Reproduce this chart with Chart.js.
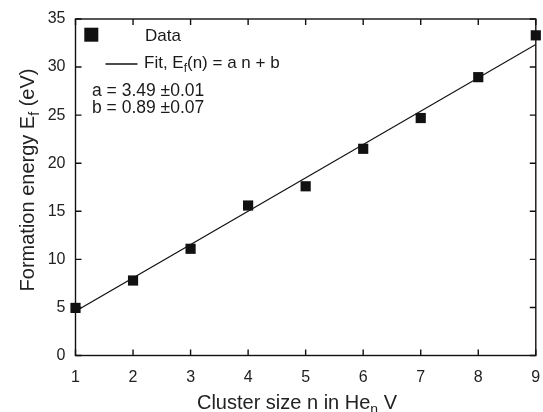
<!DOCTYPE html>
<html>
<head>
<meta charset="utf-8">
<script src="https://cdn.jsdelivr.net/npm/chart.js@4/dist/chart.umd.min.js"></script>
<style>
html,body{margin:0;padding:0;background:#fff;}
#wrap{width:543px;height:412px;}
</style>
</head>
<body>
<div id="wrap"><canvas id="c" width="543" height="412"></canvas></div>
<script>
// ---- data ----
const clusterSize = [1, 2, 3, 4, 5, 6, 7, 8, 9];
const formationEnergy = [4.95, 7.8, 11.1, 15.6, 17.6, 21.5, 24.7, 28.95, 33.3];
const fitX = [1, 9];
const fitY = [4.6, 32.35];
const xTicks = [1, 2, 3, 4, 5, 6, 7, 8, 9];
const yTicks = [0, 5, 10, 15, 20, 25, 30, 35];
const legendData = "Data";
const legendFit = ["Fit, E", "f", "(n) = a n + b"];
const fitParams = ["a = 3.49 \u00b10.01", "b = 0.89 \u00b10.07"];
const yTitle = ["Formation energy E", "f", " (eV)"];
const xTitle = ["Cluster size n in He", "n", " V"];

const FONT = "'Liberation Sans', Arial, sans-serif";
const INK = "#111";

function drawRich(ctx, parts, x, y, size) {
  let cx = x;
  ctx.font = size + "px " + FONT;
  ctx.fillText(parts[0], cx, y); cx += ctx.measureText(parts[0]).width;
  ctx.font = Math.round(size * 0.68) + "px " + FONT;
  ctx.fillText(parts[1], cx, y + size * 0.25); cx += ctx.measureText(parts[1]).width;
  ctx.font = size + "px " + FONT;
  ctx.fillText(parts[2], cx, y); cx += ctx.measureText(parts[2]).width;
  return cx - x;
}
function richWidth(ctx, parts, size) {
  ctx.font = size + "px " + FONT;
  let w = ctx.measureText(parts[0]).width + ctx.measureText(parts[2]).width;
  ctx.font = Math.round(size * 0.68) + "px " + FONT;
  return w + ctx.measureText(parts[1]).width;
}

const decor = {
  id: 'decor',
  afterDraw(chart) {
    const ctx = chart.ctx;
    const a = chart.chartArea;
    const xs = chart.scales.x, ys = chart.scales.y;
    ctx.save();
    ctx.strokeStyle = INK;
    ctx.lineWidth = 1.4;
    ctx.strokeRect(a.left, a.top, a.right - a.left, a.bottom - a.top);
    const tl = 6;
    ctx.beginPath();
    xTicks.forEach(v => {
      const px = xs.getPixelForValue(v);
      ctx.moveTo(px, a.bottom); ctx.lineTo(px, a.bottom - tl);
      ctx.moveTo(px, a.top); ctx.lineTo(px, a.top + tl);
    });
    yTicks.forEach(v => {
      const py = ys.getPixelForValue(v);
      ctx.moveTo(a.left, py); ctx.lineTo(a.left + tl, py);
      ctx.moveTo(a.right, py); ctx.lineTo(a.right - tl, py);
    });
    ctx.stroke();

    // legend
    ctx.fillStyle = INK;
    ctx.fillRect(84.3, 27.7, 14, 14);
    ctx.beginPath();
    ctx.lineWidth = 1.4;
    ctx.moveTo(105.5, 64); ctx.lineTo(137.5, 64); ctx.stroke();
    ctx.textBaseline = 'alphabetic';
    ctx.textAlign = 'left';
    ctx.fillStyle = "#1a1a1a";
    ctx.font = "17px " + FONT;
    ctx.fillText(legendData, 145, 40.7);
    drawRich(ctx, legendFit, 144, 67.5, 17);
    ctx.font = "17.5px " + FONT;
    ctx.fillText(fitParams[0], 92, 95.7);
    ctx.fillText(fitParams[1], 92, 113.3);

    // axis titles
    ctx.fillStyle = "#222";
    const ts = 20;
    const wx = richWidth(ctx, xTitle, ts);
    drawRich(ctx, xTitle, 297 - wx / 2, 409, ts);
    ctx.save();
    ctx.translate(33.5, 180);
    ctx.rotate(-Math.PI / 2);
    const wy = richWidth(ctx, yTitle, ts);
    drawRich(ctx, yTitle, -wy / 2, 0, ts);
    ctx.restore();
    ctx.restore();
  }
};

new Chart(document.getElementById('c'), {
  type: 'scatter',
  data: {
    datasets: [
      {
        label: 'Data',
        data: clusterSize.map((n, i) => ({x: n, y: formationEnergy[i]})),
        pointStyle: 'rect',
        pointRadius: 7.2,
        pointHoverRadius: 7.2,
        backgroundColor: INK,
        borderColor: INK,
        borderWidth: 0,
        showLine: false,
        clip: false,
        order: 1
      },
      {
        label: 'Fit',
        data: fitX.map((n, i) => ({x: n, y: fitY[i]})),
        showLine: true,
        pointRadius: 0,
        borderColor: INK,
        borderWidth: 1.3,
        fill: false,
        order: 2
      }
    ]
  },
  options: {
    responsive: false,
    animation: false,
    devicePixelRatio: 1,
    layout: { padding: { top: 19, right: 6, left: 0, bottom: 0 } },
    plugins: { legend: { display: false }, tooltip: { enabled: false } },
    scales: {
      x: {
        type: 'linear', min: 1, max: 9,
        afterBuildTicks: s => { s.ticks = xTicks.map(v => ({value: v})); },
        afterFit: s => { s.height = 56.5; s.paddingLeft = 0; s.paddingRight = 0; },
        grid: { display: false, drawTicks: false },
        border: { display: false },
        ticks: { padding: 12, color: '#222', maxRotation: 0, font: { family: FONT, size: 16 } }
      },
      y: {
        type: 'linear', min: 0, max: 35,
        afterBuildTicks: s => { s.ticks = yTicks.map(v => ({value: v})); },
        afterFit: s => { s.width = 75.5; s.paddingTop = 0; s.paddingBottom = 0; },
        grid: { display: false, drawTicks: false },
        border: { display: false },
        ticks: { padding: 10, color: '#222', font: { family: FONT, size: 16 } }
      }
    }
  },
  plugins: [decor]
});
</script>
</body>
</html>
